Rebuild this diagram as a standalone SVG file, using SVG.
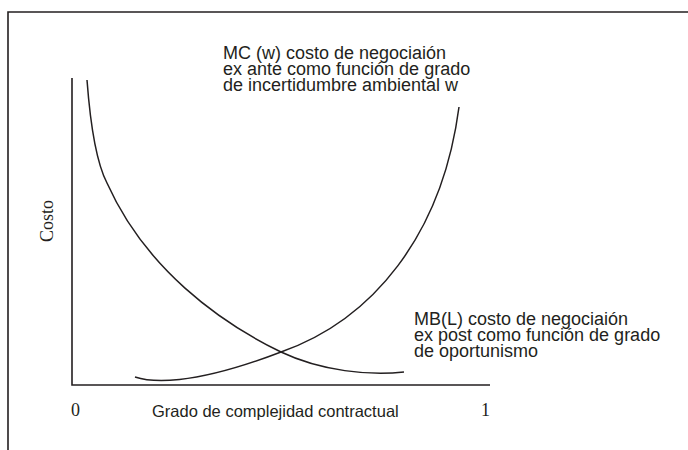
<svg xmlns="http://www.w3.org/2000/svg" width="688" height="450" viewBox="0 0 688 450">
<style>
.ln{fill:none;stroke:#231f20;stroke-width:1.6}
.cv{fill:none;stroke:#231f20;stroke-width:1.5}
.sans{font-family:"Liberation Sans",Arial,sans-serif;font-size:18px;fill:#231f20}
.axl{font-family:"Liberation Sans",Arial,sans-serif;font-size:16.5px;fill:#231f20}
.serif{font-family:"Liberation Serif","Times New Roman",serif;font-size:18px;fill:#231f20}
</style>
<rect width="688" height="450" fill="#fff"/>
<g id="frame">
<path class="ln" d="M8,450 V12 H688"/>
</g>
<g id="axes">
<path class="ln" d="M72,78 V385 H490"/>
<text class="serif" x="0" y="0" transform="translate(53,221) rotate(-90)" text-anchor="middle">Costo</text>
<text class="serif" x="71" y="416">0</text>
<text class="serif" x="481" y="416">1</text>
<text class="axl" x="152" y="417">Grado de complejidad contractual</text>
</g>
<g id="connectors">
<path id="mb-curve" class="cv" d="M87,80 C90,120 95,160 107,183 C145,268 219,322 281,352 C321,371 370,376 404,372"/>
<path id="mc-curve" class="cv" d="M135,377 C150,382 190,387 281,352 C372,320 442,236 459,107"/>
</g>
<g id="label-mc">
<text class="sans"><tspan x="223" y="59">MC (w) costo de negociaión</tspan><tspan x="223" y="75">ex ante como función de grado</tspan><tspan x="223" y="91">de incertidumbre ambiental w</tspan></text>
</g>
<g id="label-mb">
<text class="sans"><tspan x="414" y="325">MB(L) costo de negociaión</tspan><tspan x="414" y="341">ex post como función de grado</tspan><tspan x="414" y="357">de oportunismo</tspan></text>
</g>
</svg>
